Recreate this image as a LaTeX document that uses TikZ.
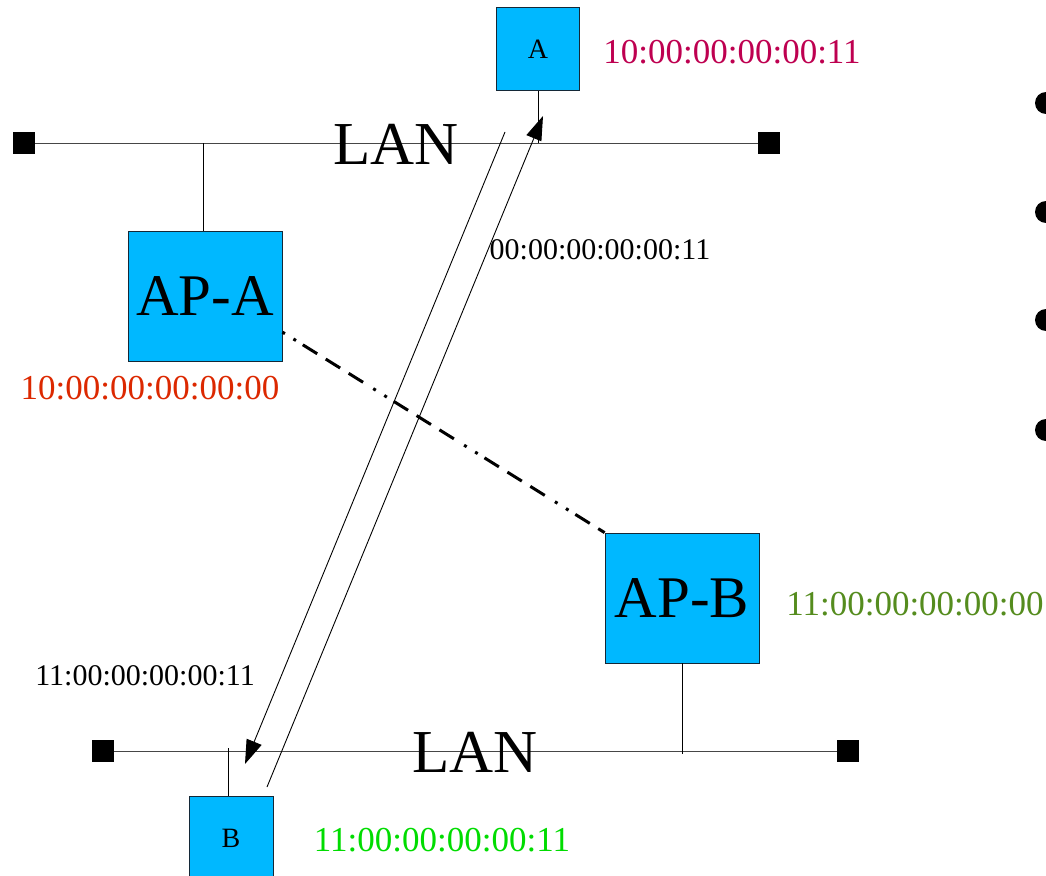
\documentclass[tikz,border=0pt]{standalone}
\usepackage{fontspec}
\setmainfont{Liberation Serif}
\usetikzlibrary{arrows.meta}
\definecolor{apfill}{RGB}{0,184,255}
\definecolor{apedge}{RGB}{20,40,55}
\definecolor{macred}{RGB}{220,40,0}
\definecolor{macwine}{RGB}{190,0,80}
\definecolor{macolive}{RGB}{85,140,30}
\definecolor{macgreen}{RGB}{0,220,0}
\definecolor{wire}{RGB}{70,70,70}
\newcommand{\fs}[1]{\fontsize{#1}{#1}\selectfont}
\tikzset{
  box/.style={draw=apedge, fill=apfill, line width=0.8pt, inner sep=0pt},
  term/.style={fill=black, minimum size=22pt, inner sep=0pt},
  lan/.style={draw=wire, line width=1pt},
  stub/.style={draw=black, line width=0.9pt},
  flow/.style={draw=black, line width=0.9pt, -{Triangle[length=24pt,width=16pt]}},
  radio/.style={draw=black, line width=3pt,
    dash pattern=on 3pt off 10pt on 3pt off 8pt on 17pt off 10pt on 17pt off 10pt on 17pt off 12pt},
  mac/.style={font=\fs{35}, inner sep=0pt},
  addr/.style={font=\fs{30}, inner sep=0pt},
  big/.style={font=\fs{61}, inner sep=0pt}
}
\begin{document}
\begin{tikzpicture}[x=1pt,y=-1pt]
\useasboundingbox (0,0) rectangle (1046,875);
\clip (0,0) rectangle (1046,875);

% upper LAN segment
\node[term] (tl) at (24,143) {};
\node[term] (tr) at (769,143) {};
\draw[lan] (tl) -- (tr);
\node[big] (lanTop) at (396,144) {LAN};

% lower LAN segment
\node[term] (bl) at (103,751) {};
\node[term] (br) at (848,751) {};
\draw[lan] (bl) -- (br);
\node[big] (lanBot) at (475,752) {LAN};

% stations and access points
\node[box, minimum width=83pt, minimum height=83pt, font=\fs{28}] (A) at (538,49) {A};
\node[box, minimum width=84pt, minimum height=84pt, font=\fs{28}] (B) at (231,838) {B};
\node[box, minimum width=154pt, minimum height=130pt, font=\fs{59}] (APA) at (205,296) {AP-A};
\node[box, minimum width=154pt, minimum height=130pt, font=\fs{59}] (APB) at (682,598) {AP-B};

% attachments to the LAN
\coordinate (aTap) at (538,143);
\coordinate (bTap) at (228,748);
\draw[stub] (A.south) -- (aTap);
\draw[stub] (B.north -| bTap) -- (bTap);
\draw[stub] (APA.north -| 203,0) -- (203,143);
\draw[stub] (APB.south) -- (APB.south |- 0,754);

% wireless link between the access points
\draw[radio] (APA.-25.7) -- (APB.north west);

% frame path between the stations
\coordinate (downStart) at (505,132);
\coordinate (downEnd) at (245,764);
\coordinate (upStart) at (267,787);
\coordinate (upEnd) at (543,116);
\draw[flow] (downStart) -- (downEnd);
\draw[flow] (upStart) -- (upEnd);

% addresses
\node[mac, text=macwine] (macA) at (732,52) {10:00:00:00:00:11};
\node[mac, text=macred] (macAPA) at (150,388) {10:00:00:00:00:00};
\node[mac, text=macolive] (macAPB) at (915,604) {11:00:00:00:00:00};
\node[mac, text=macgreen] (macB) at (442,840) {11:00:00:00:00:11};
\node[addr] (hdrTop) at (600,250) {00:00:00:00:00:11};
\node[addr] (hdrBot) at (145,676) {11:00:00:00:00:11};

% bullets at the right edge
\foreach \y in {103,212,320,430} \fill (1046,\y) circle (11);
\end{tikzpicture}
\end{document}
